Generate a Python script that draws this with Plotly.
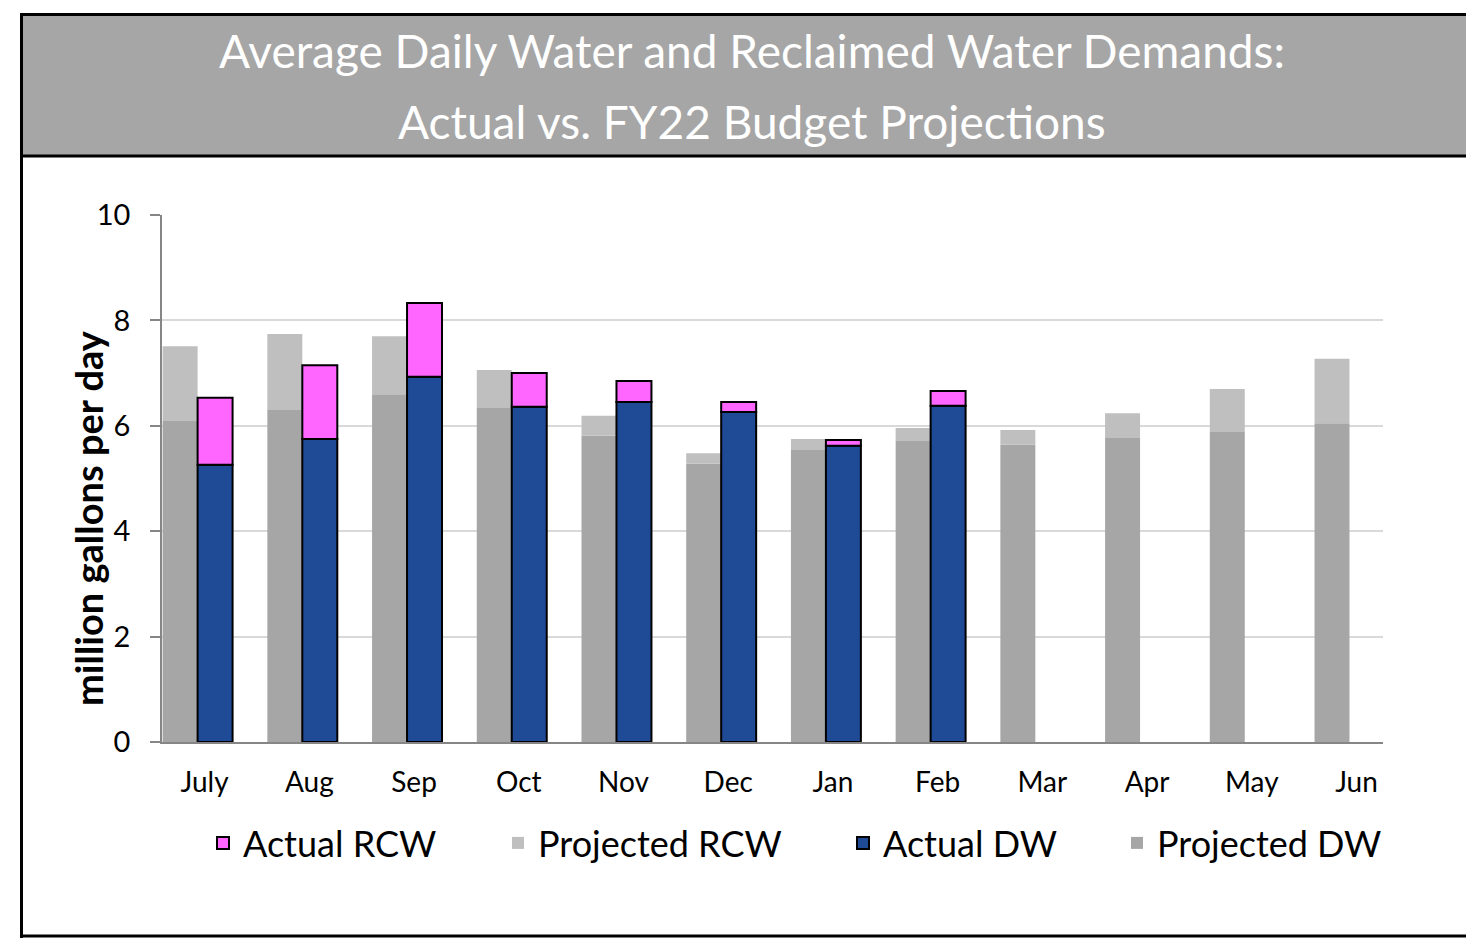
import plotly.graph_objects as go

months = ["July", "Aug", "Sep", "Oct", "Nov", "Dec", "Jan", "Feb", "Mar", "Apr", "May", "Jun"]
projected_dw = [6.09, 6.30, 6.60, 6.34, 5.81, 5.28, 5.54, 5.71, 5.64, 5.77, 5.88, 6.05]
projected_rcw = [1.42, 1.44, 1.10, 0.72, 0.38, 0.20, 0.21, 0.25, 0.28, 0.47, 0.82, 1.22]
actual_dw = [5.26, 5.75, 6.93, 6.36, 6.45, 6.26, 5.62, 6.38]
actual_rcw = [1.27, 1.40, 1.40, 0.64, 0.40, 0.19, 0.11, 0.28]

title_lines = ["Average Daily Water and Reclaimed Water Demands:", "Actual vs. FY22 Budget Projections"]
y_title = "million gallons per day"

FONT = "Lato"
OFF = 8  # page body margin
W, H = 1474 - OFF, 938 - OFF
# plot area in reference pixel coords: x 162..1383, y 215..742
L, R, T, B = 162 - OFF, 1474 - 1383, 215 - OFF, 938 - 742
pw, ph = W - L - R, H - T - B

def px(x):
    return (x - OFF - L) / pw

def py(y):
    return (H - B - (y - OFF)) / ph

xs = list(range(len(months)))
bw = 0.334

fig = go.Figure()
fig.add_trace(go.Bar(x=xs, y=projected_dw, name="Projected DW", offsetgroup="p", offset=-bw, width=bw,
                     marker=dict(color="#a6a6a6", line=dict(width=0)), legend="legend4"))
fig.add_trace(go.Bar(x=xs, y=projected_rcw, name="Projected RCW", offsetgroup="p", offset=-bw, width=bw,
                     marker=dict(color="#bfbfbf", line=dict(width=0)), legend="legend2"))
fig.add_trace(go.Bar(x=xs[:len(actual_dw)], y=actual_dw, name="Actual DW", offsetgroup="a", offset=0, width=bw,
                     marker=dict(color="#1f4a96", line=dict(width=2, color="black")), legend="legend3"))
fig.add_trace(go.Bar(x=xs[:len(actual_rcw)], y=actual_rcw, name="Actual RCW", offsetgroup="a", offset=0, width=bw,
                     marker=dict(color="#ff66ff", line=dict(width=2, color="black")), legend="legend"))

shapes = [
    dict(type="rect", xref="paper", yref="paper", x0=px(21), x1=px(1490), y0=py(156), y1=py(14),
         fillcolor="#a6a6a6", line=dict(width=0), layer="below"),
    dict(type="line", xref="paper", yref="paper", x0=px(21), x1=px(1490), y0=py(156), y1=py(156),
         line=dict(color="black", width=3)),
    dict(type="line", xref="paper", yref="paper", x0=px(21), x1=px(1490), y0=py(14.5), y1=py(14.5),
         line=dict(color="black", width=3)),
    dict(type="line", xref="paper", yref="paper", x0=px(21), x1=px(1490), y0=py(936), y1=py(936),
         line=dict(color="black", width=3)),
    dict(type="line", xref="paper", yref="paper", x0=px(21.5), x1=px(21.5), y0=py(938), y1=py(13),
         line=dict(color="black", width=3)),
]

annotations = [
    dict(text=title_lines[0], xref="paper", yref="paper", x=px(752), y=py(50), showarrow=False,
         font=dict(family=FONT, size=46, color="white"), xanchor="center", yanchor="middle"),
    dict(text=title_lines[1], xref="paper", yref="paper", x=px(752), y=py(122), showarrow=False,
         font=dict(family=FONT, size=46, color="white"), xanchor="center", yanchor="middle"),
    dict(text="<b>" + y_title + "</b>", xref="paper", yref="paper", x=px(88), y=py(518), showarrow=False,
         textangle=-90, font=dict(family=FONT, size=38, color="black"), xanchor="center", yanchor="middle"),
]

def leg(x_text_start):
    return dict(orientation="h", x=px(x_text_start - 40), y=py(843), xanchor="left", yanchor="middle",
                font=dict(family=FONT, size=36, color="black"), bgcolor="rgba(0,0,0,0)")

fig.update_layout(
    width=W, height=H,
    margin=dict(l=L, r=R, t=T, b=B, autoexpand=False),
    barmode="relative",
    plot_bgcolor="white", paper_bgcolor="white",
    font=dict(family=FONT, color="black"),
    shapes=shapes,
    annotations=annotations,
    showlegend=True,
    legend=leg(243),
    legend2=leg(538),
    legend3=leg(883),
    legend4=leg(1157),
    xaxis=dict(range=[-0.34, 11.32], tickmode="array", tickvals=xs, ticktext=months,
               showgrid=False, zeroline=False, showline=True, linecolor="#868686", linewidth=1.5,
               ticks="", tickfont=dict(family=FONT, size=28, color="black"), ticklabelshift=7,
               ticklabelstandoff=15, fixedrange=True),
    yaxis=dict(range=[0, 10], tickvals=[0, 2, 4, 6, 8, 10], showgrid=True, gridcolor="#d9d9d9", gridwidth=1.5,
               zeroline=False, showline=True, linecolor="#868686", linewidth=1.5,
               ticks="outside", ticklen=10, tickcolor="#868686", tickwidth=1.5,
               tickfont=dict(family=FONT, size=29, color="black"), ticklabelstandoff=14, fixedrange=True),
)

fig.write_html("out.html")
